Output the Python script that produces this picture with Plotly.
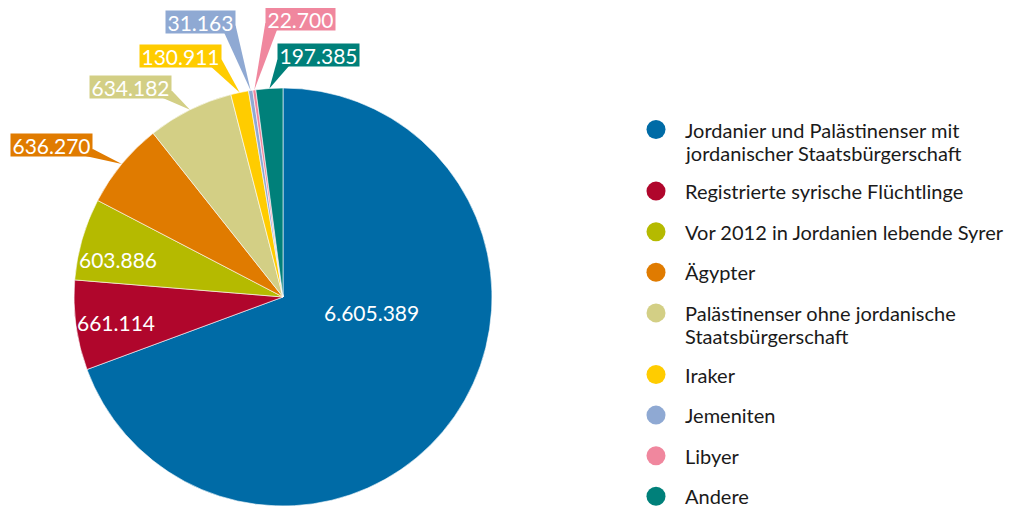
import math
import plotly.graph_objects as go

# ---------------- data ----------------
categories = [
    "Jordanier und Palästinenser mit<br>jordanischer Staatsbürgerschaft",
    "Registrierte syrische Flüchtlinge",
    "Vor 2012 in Jordanien lebende Syrer",
    "Ägypter",
    "Palästinenser ohne jordanische<br>Staatsbürgerschaft",
    "Iraker",
    "Jemeniten",
    "Libyer",
    "Andere",
]
values = [6605389, 661114, 603886, 636270, 634182, 130911, 31163, 22700, 197385]
colors = ["#006BA6", "#B0062C", "#B5BA00", "#E07B00", "#D3CF85",
          "#FFCC00", "#8FA9D3", "#F0879E", "#00807A"]

value_labels = [f"{v:,}".replace(",", ".") for v in values]

# ---------------- layout helpers ----------------
W, H = 1015, 507
OFF = 8            # page body margin of the html page
CX, CY, R = 283, 297, 209
FONT = "Lato"
NUM_SIZE = 21
LEG_SIZE = 20


def px(x):
    return (x - OFF) / W


def py(y):
    return 1 - (y - OFF) / H


fig = go.Figure()
fig.add_trace(go.Pie(
    labels=[c.replace("<br>", " ") for c in categories],
    values=values,
    textinfo="none",
    marker=dict(colors=colors, line=dict(color="white", width=0.6)),
    sort=False,
    direction="clockwise",
    rotation=0,
    showlegend=False,
    hoverinfo="label+value",
    domain=dict(x=[px(CX - R), px(CX + R)], y=[py(CY + R), py(CY - R)]),
))

# inside labels: (fraction along slice angle, radius fraction)
inside_style = {0: (0.40, 0.43), 1: (0.47, 0.81), 2: (0.36, 0.81)}
# callouts: (side, dx, dy) box edge offset from the slice-edge anchor (pixels)
callout_style = {
    3: ("left", -29, -19),
    4: ("left", -18, -23),
    5: ("left", -18, -37),
    6: ("left", -15, -69),
    7: ("right", 11, -71),
    8: ("right", 8, -33),
}
BOX_H = 22
total = sum(values)
shapes = []
annotations = []
cum = 0
for i, v in enumerate(values):
    start = cum / total * 360
    cum += v
    end = cum / total * 360
    if i in inside_style:
        frac, rf = inside_style[i]
        a = math.radians(start + frac * (end - start))
        annotations.append(dict(
            x=px(CX + rf * R * math.sin(a)), y=py(CY - rf * R * math.cos(a)),
            xref="paper", yref="paper", xanchor="center", yanchor="middle",
            showarrow=False, text=value_labels[i],
            font=dict(color="white", size=NUM_SIZE, family=FONT),
        ))
        continue
    mid = math.radians((start + end) / 2)
    tx = CX + R * math.sin(mid)
    ty = CY - R * math.cos(mid)
    side, dx, dy = callout_style[i]
    bx = tx + dx
    bcy = ty + dy
    bottom = bcy + BOX_H / 2
    if side == "left":
        p1 = (bx - 12, bottom - 1)
        p2 = (bx, bottom - 7)
        xanchor = "right"
    else:
        p1 = (bx, bottom - 7)
        p2 = (bx + 12, bottom - 1)
        xanchor = "left"
    path = (f"M {px(p1[0])},{py(p1[1])} L {px(p2[0])},{py(p2[1])} "
            f"L {px(tx)},{py(ty)} Z")
    shapes.append(dict(type="path", path=path, xref="paper", yref="paper",
                       fillcolor=colors[i], line=dict(width=0), layer="above"))
    annotations.append(dict(
        x=px(bx), y=py(bcy), xref="paper", yref="paper",
        xanchor=xanchor, yanchor="middle", showarrow=False,
        text=value_labels[i], bgcolor=colors[i], borderpad=1.5,
        height=BOX_H - 3,
        font=dict(color="white", size=NUM_SIZE, family=FONT),
    ))

# ---------------- legend (circles + text) ----------------
LEG_X, LEG_TX, LEG_Y0 = 656, 684, 129.5
STEP, EXTRA, LINE_H, DOT_R = 40.6, 21, 23, 9.5
y = LEG_Y0
for i, cat in enumerate(categories):
    lines = cat.split("<br>")
    shapes.append(dict(type="circle", xref="paper", yref="paper",
                       x0=px(LEG_X - DOT_R), x1=px(LEG_X + DOT_R),
                       y0=py(y + DOT_R), y1=py(y - DOT_R),
                       fillcolor=colors[i], line=dict(width=0)))
    for k, line in enumerate(lines):
        annotations.append(dict(
            x=px(LEG_TX), y=py(y + k * LINE_H),
            xref="paper", yref="paper", xanchor="left", yanchor="middle",
            align="left", showarrow=False, text=line, borderpad=0,
            font=dict(color="#1a1a1a", size=LEG_SIZE, family=FONT),
        ))
    y += STEP + (len(lines) - 1) * EXTRA

fig.update_layout(
    width=W, height=H,
    margin=dict(l=0, r=0, t=0, b=0),
    paper_bgcolor="white", plot_bgcolor="white",
    shapes=shapes, annotations=annotations,
    font=dict(family=FONT),
)

fig.write_html("out.html")
